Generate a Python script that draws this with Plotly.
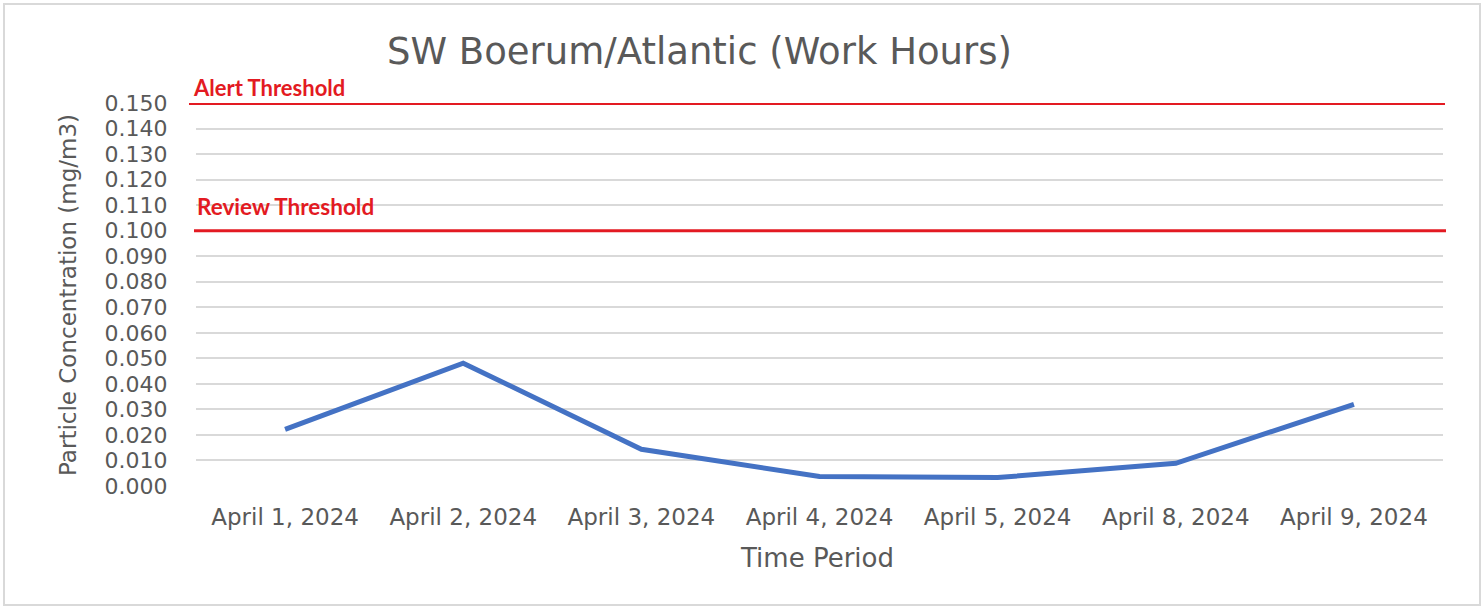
import plotly.graph_objects as go

# ---- data ----
dates = ["April 1, 2024", "April 2, 2024", "April 3, 2024", "April 4, 2024",
         "April 5, 2024", "April 8, 2024", "April 9, 2024"]
concentration = [0.0222, 0.0481, 0.0144, 0.0037, 0.0033, 0.0089, 0.0320]
alert_threshold = 0.150
review_threshold = 0.100
y_ticks = [i / 1000 for i in range(0, 151, 10)]
y_tick_text = [f"{v:.3f}" for v in y_ticks]

title_text = "SW Boerum/Atlantic (Work Hours)"
x_title = "Time Period"
y_title = "Particle Concentration (mg/m3)"

W, H = 1484, 608
L, R, T, B = 196, 41, 103, 122
pw, ph = W - L - R, H - T - B

def px(x):
    return (x - L) / pw

def py(y):
    return (H - B - y) / ph

GRAY = "#595959"
RED = "#E31A22"
FONT = "DejaVu Sans"

fig = go.Figure()
fig.add_trace(go.Scatter(
    x=dates, y=concentration, mode="lines",
    line=dict(color="#4472C4", width=5),
    showlegend=False, hoverinfo="x+y"))

shapes = [
    dict(type="line", xref="paper", yref="y", x0=px(189), x1=px(1445),
         y0=alert_threshold, y1=alert_threshold, line=dict(color=RED, width=4)),
    dict(type="line", xref="paper", yref="y", x0=px(194), x1=px(1446),
         y0=review_threshold, y1=review_threshold, line=dict(color=RED, width=3)),
    dict(type="rect", xref="paper", yref="paper", x0=px(4), x1=px(1480),
         y0=py(605), y1=py(4), line=dict(color="#D9D9D9", width=2),
         fillcolor="rgba(0,0,0,0)", layer="below"),
]

annotations = [
    dict(text=title_text, xref="paper", yref="paper", x=px(699), y=py(52),
         xanchor="center", yanchor="middle", showarrow=False,
         font=dict(family=FONT, size=37, color=GRAY)),
    dict(text="Alert Threshold", xref="paper", yref="paper", x=px(191), y=py(87),
         xanchor="left", yanchor="middle", showarrow=False,
         font=dict(family="Lato", size=22, color=RED, weight="bold")),
    dict(text="Review Threshold", xref="paper", yref="paper", x=px(195), y=py(206),
         xanchor="left", yanchor="middle", showarrow=False,
         font=dict(family="Lato", size=22.5, color=RED, weight="bold")),
    dict(text=x_title, xref="paper", yref="paper", x=px(817), y=py(558),
         xanchor="center", yanchor="middle", showarrow=False,
         font=dict(family=FONT, size=26, color=GRAY)),
    dict(text=y_title, xref="paper", yref="paper", x=px(68), y=py(295),
         xanchor="center", yanchor="middle", showarrow=False, textangle=-90,
         font=dict(family=FONT, size=23, color=GRAY)),
]

fig.update_layout(
    width=W, height=H,
    margin=dict(l=L, r=R, t=T, b=B, pad=0),
    paper_bgcolor="white", plot_bgcolor="white",
    shapes=shapes, annotations=annotations,
    xaxis=dict(type="category", showgrid=False, zeroline=False, showline=False,
               ticks="outside", ticklen=10, tickcolor="rgba(0,0,0,0)",
               tickfont=dict(family=FONT, size=23, color=GRAY),
               range=[-0.5, len(dates) - 0.5]),
    yaxis=dict(range=[0, 0.150], tickvals=y_ticks, ticktext=y_tick_text,
               showgrid=True, gridcolor="#D9D9D9", gridwidth=1.5,
               zeroline=False, showline=False,
               ticks="outside", ticklen=23, tickcolor="rgba(0,0,0,0)",
               tickfont=dict(family=FONT, size=22, color=GRAY)),
)

fig.write_html("out.html", config={"displayModeBar": False},
               post_script="document.body.style.margin='0';document.body.style.overflow='hidden';")
